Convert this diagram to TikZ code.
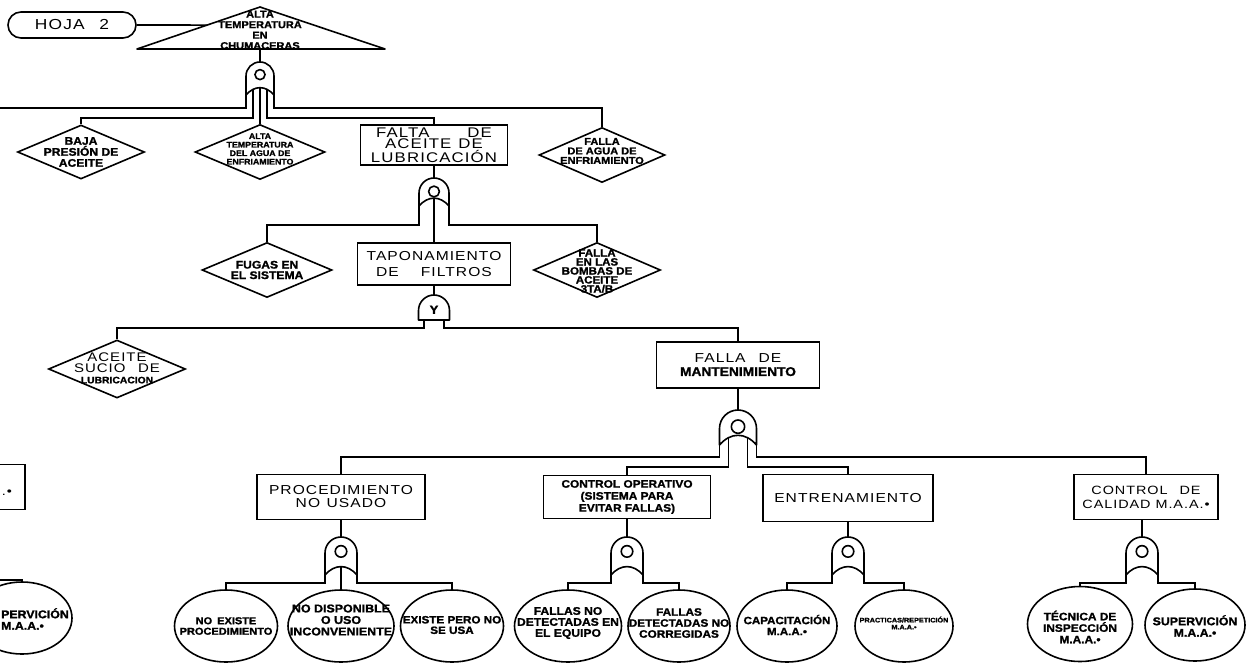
\documentclass[tikz,border=0pt]{standalone}
\usepackage{fontspec}
\setmainfont{Liberation Sans}
\newfontfamily\boxfont[FakeStretch=1.2,LetterSpace=8]{Liberation Sans}
\newfontfamily\tagfont[FakeStretch=1.1,FakeBold=1.5]{Liberation Sans Bold}
\usetikzlibrary{shapes.geometric}

\tikzset{
  link/.style={line width=1.6pt},
  gateline/.style={line width=1.6pt, line join=round},
  fault/.style={draw, rectangle, line width=1.6pt, inner sep=1pt, align=center, font=\boxfont\fontsize{13}{13}\selectfont},
  basic/.style={draw, ellipse, line width=1.6pt, inner sep=0pt},
  cond/.style={draw, diamond, line width=1.6pt, inner sep=0pt},
  tag/.style={align=center, inner sep=0pt, font=\tagfont\fontsize{10.5}{11}\selectfont}
}

\newcommand{\orgate}[5]{%
  \pgfmathsetmacro\gatew{#4/2}
  \pgfmathsetmacro\gatek{0.552*\gatew}
  \begin{scope}[shift={(#2,#3)}]
    \draw[gateline] (-\gatew,#5) -- (-\gatew,\gatew) .. controls (-\gatew,\gatew-\gatek) and (-\gatek,0) .. (0,0)
      .. controls (\gatek,0) and (\gatew,\gatew-\gatek) .. (\gatew,\gatew) -- (\gatew,#5)
      .. controls (0.4*\gatew,#5-0.7*\gatew) and (-0.4*\gatew,#5-0.7*\gatew) .. cycle;
    \draw[gateline] (0,0.9*\gatew) circle (0.36*\gatew);
    \coordinate (#1 top) at (0,0);
    \coordinate (#1 bl) at (-\gatew,#5);
    \coordinate (#1 br) at (\gatew,#5);
    \coordinate (#1 bc) at (0,#5-0.52*\gatew);
    \coordinate (#1 il) at (-0.52*\gatew,#5-0.39*\gatew);
    \coordinate (#1 ir) at (0.52*\gatew,#5-0.39*\gatew);
  \end{scope}
}

\newcommand{\andgate}[5]{%
  \pgfmathsetmacro\gatew{#4/2}
  \pgfmathsetmacro\gatek{0.552*\gatew}
  \begin{scope}[shift={(#2,#3)}]
    \draw[gateline] (-\gatew,#5) -- (-\gatew,\gatew) .. controls (-\gatew,\gatew-\gatek) and (-\gatek,0) .. (0,0)
      .. controls (\gatek,0) and (\gatew,\gatew-\gatek) .. (\gatew,\gatew) -- (\gatew,#5) -- cycle;
    \node[font=\tagfont\fontsize{12}{12}\selectfont, inner sep=0pt] (#1 sym) at (0,0.95*\gatew) {Y};
    \coordinate (#1 top) at (0,0);
    \coordinate (#1 il) at (-0.65*\gatew,#5);
    \coordinate (#1 ir) at (0.65*\gatew,#5);
  \end{scope}
}

\begin{document}
\begin{tikzpicture}[x=1pt,y=-1pt]
    \useasboundingbox (0,0) rectangle (1260,665);
    \clip (0,0) rectangle (1260,665);
    \fill[white] (0,0) rectangle (1260,665);

    \node[fault, font=\boxfont\fontsize{14.5}{14}\selectfont, rounded corners=13pt, minimum width=128, minimum height=26] (hoja) at (72,25) {HOJA\quad 2};
    \coordinate (tapex) at (260,7);
    \coordinate (tleft) at (137,49);
    \coordinate (tright) at (385,49);
    \coordinate (tbase) at (260,49);
    \draw[gateline] (tapex) -- (tright) -- (tleft) -- cycle;
    \path (tapex) -- (tleft) coordinate[pos=0.43] (tside);
    \node[tag, font=\tagfont\fontsize{10}{10.5}\selectfont] (chum) at (260,30) {ALTA\\TEMPERATURA\\EN\\CHUMACERAS};
    \draw[link] (hoja.east) -- (tside);

    \orgate{g1}{260}{62}{28}{33}
    \draw[link] (tbase) -- (g1 top);

    \node[cond, minimum width=127, minimum height=54] (baja) at (81,152) {};
    \node[tag, font=\tagfont\fontsize{11}{11}\selectfont] (baja-t) at (baja) {BAJA\\PRESIÓN DE\\ACEITE};
    \node[cond, minimum width=130, minimum height=55] (aguat) at (260,152) {};
    \node[tag, font=\tagfont\fontsize{8}{8.5}\selectfont] (aguat-t) at (260,149) {ALTA\\TEMPERATURA\\DEL AGUA DE\\ENFRIAMIENTO};
    \node[fault, font=\boxfont\fontsize{14}{11.5}\selectfont, minimum width=147, minimum height=40] (falta) at (434,145) {FALTA\hspace{38pt}DE\\ACEITE\enspace DE\\LUBRICACIÓN};
    \node[cond, minimum width=126, minimum height=55] (agua) at (602,155) {};
    \node[tag, font=\tagfont\fontsize{10}{9.5}\selectfont] (agua-t) at (602,151) {FALLA\\DE AGUA DE\\ENFRIAMIENTO};
    \coordinate (offtop) at (-2,108);

    \draw[link] (g1 bl) |- (offtop);
    \draw[link] (g1 br) -- ++(0,13) -| (agua.north);
    \draw[link] (g1 il) -- ++(0,28.5) -| (baja.north);
    \draw[link] (g1 ir) -- ++(0,28.5) -| (falta.north);
    \draw[link] (g1 bc) -- (aguat.north);

    \orgate{g2}{434}{178}{30}{28}
    \draw[link] (falta.south) -- (g2 top);
    \node[cond, minimum width=130, minimum height=55] (fugas) at (267,270) {};
    \node[tag, font=\tagfont\fontsize{11}{10.5}\selectfont] (fugas-t) at (fugas) {FUGAS EN\\EL SISTEMA};
    \node[fault, minimum width=153, minimum height=42] (tapon) at (434,264) {TAPONAMIENTO\\[3pt]DE\hspace{22pt}FILTROS};
    \node[cond, minimum width=127, minimum height=55] (bombas) at (597,270) {};
    \node[tag, font=\tagfont\fontsize{10.5}{9}\selectfont] (bombas-t) at (597,271) {FALLA\\EN LAS\\BOMBAS DE\\ACEITE\\3TA/B};
    \draw[link] (g2 bl) -- ++(0,19) -| (fugas.north);
    \draw[link] (g2 br) -- ++(0,19) -| (bombas.north);
    \draw[link] (g2 bc) -- (tapon.north);

    \andgate{g3}{434}{295}{31}{25}
    \draw[link] (tapon.south) -- (g3 top);
    \node[cond, minimum width=137, minimum height=58] (sucio) at (117,369) {};
    \node[tag, font=\boxfont\fontsize{12.5}{11}\selectfont] (sucio-t) at (117,368) {ACEITE\\SUCIO\quad DE\\{\tagfont\fontsize{9.4}{9}\selectfont LUBRICACION}};
    \node[fault, minimum width=163, minimum height=46] (mant) at (738,365) {FALLA\quad DE\\{\tagfont\fontsize{12.5}{13}\selectfont MANTENIMIENTO}};
    \draw[link] (g3 il) -- ++(0,8) -| (sucio.north);
    \draw[link] (g3 ir) -- ++(0,8) -| (mant.north);

    \orgate{g4}{738}{410}{37}{35}
    \draw[link] (mant.south) -- (g4 top);
    \node[fault, minimum width=168, minimum height=45] (proc) at (341,497) {PROCEDIMIENTO\\NO\enspace USADO};
    \node[fault, font=\tagfont\fontsize{10.8}{12}\selectfont, minimum width=167, minimum height=43] (operativo) at (627,497) {CONTROL OPERATIVO\\(SISTEMA PARA\\EVITAR FALLAS)};
    \node[fault, minimum width=170, minimum height=47] (entren) at (848,498) {ENTRENAMIENTO};
    \node[fault, font=\boxfont\fontsize{12}{14}\selectfont, minimum width=144, minimum height=45] (calidad) at (1146,497) {CONTROL\quad DE\\CALIDAD M.A.A.•};
    \draw[link] (g4 bl) -- ++(0,12) -| (proc.north);
    \draw[link] (g4 br) -- ++(0,12) -| (calidad.north);
    \draw[link] (g4 il) -- ++(0,29) -| (operativo.north);
    \draw[link] (g4 ir) -- ++(0,29) -| (entren.north);

    \orgate{g5}{341}{537}{32}{38}
    \orgate{g6}{627}{537}{32}{38}
    \orgate{g7}{848}{537}{32}{38}
    \orgate{g8}{1142}{537}{32}{38}
    \draw[link] (proc.south) -- (g5 top);
    \draw[link] (operativo.south) -- (g6 top);
    \draw[link] (entren.south) -- (g7 top);
    \draw[link] (g8 top) -- (g8 top |- calidad.south);

    \node[basic, minimum width=103, minimum height=72] (nopro) at (226,626) {};
    \node[tag, font=\tagfont\fontsize{10}{10.5}\selectfont] (nopro-t) at (nopro) {NO\enspace EXISTE\\PROCEDIMIENTO};
    \node[basic, minimum width=106, minimum height=72] (nodisp) at (341,626) {};
    \node[tag, font=\tagfont\fontsize{11.3}{11.5}\selectfont] (nodisp-t) at (341,620) {NO DISPONIBLE\\O USO\\INCONVENIENTE};
    \node[basic, minimum width=103, minimum height=72] (nouse) at (452,626) {};
    \node[tag, font=\tagfont\fontsize{10.6}{10.5}\selectfont] (nouse-t) at (452,625) {EXISTE PERO NO\\SE USA};
    \draw[link] (g5 bl) -- ++(0,8) -| (nopro.north);
    \draw[link] (g5 br) -- ++(0,8) -| (nouse.north);
    \draw[link] (g5 bc) -- (nodisp.north);

    \node[basic, minimum width=107, minimum height=72] (nodet) at (568,626) {};
    \node[tag, font=\tagfont\fontsize{11}{11}\selectfont] (nodet-t) at (568,623) {FALLAS NO\\DETECTADAS EN\\EL EQUIPO};
    \node[basic, minimum width=102, minimum height=72] (nocorr) at (679,626) {};
    \node[tag, font=\tagfont\fontsize{10.7}{11}\selectfont] (nocorr-t) at (679,623) {FALLAS\\DETECTADAS NO\\CORREGIDAS};
    \draw[link] (g6 bl) -- ++(0,8) -| (nodet.north);
    \draw[link] (g6 br) -- ++(0,8) -| (nocorr.north);

    \node[basic, minimum width=100, minimum height=72] (capac) at (787,626) {};
    \node[tag, font=\tagfont\fontsize{10.5}{11}\selectfont] (capac-t) at (787,625) {CAPACITACIÓN\\M.A.A.•};
    \node[basic, minimum width=98, minimum height=72] (pract) at (904,626) {};
    \node[tag, font=\tagfont\fontsize{6.6}{7}\selectfont] (pract-t) at (904,623) {PRACTICAS/REPETICIÓN\\M.A.A.•};
    \draw[link] (g7 bl) -- ++(0,8) -| (capac.north);
    \draw[link] (g7 br) -- ++(0,8) -| (pract.north);

    \node[basic, minimum width=105, minimum height=75] (tecnica) at (1080,624) {};
    \node[tag, font=\tagfont\fontsize{10.8}{11.5}\selectfont] (tecnica-t) at (1080,627) {TÉCNICA DE\\INSPECCIÓN\\M.A.A.•};
    \node[basic, minimum width=100, minimum height=72] (superv) at (1195,625) {};
    \node[tag, font=\tagfont\fontsize{11.2}{11.5}\selectfont] (superv-t) at (1195,626) {SUPERVICIÓN\\M.A.A.•};
    \draw[link] (g8 bl) -- ++(0,8) -| (tecnica.north);
    \draw[link] (g8 br) -- ++(0,8) -| (superv.north);

    \node[fault, minimum width=144, minimum height=45] (lcal) at (-47,487) {};
    \node[font=\boxfont\fontsize{12}{14}\selectfont, inner sep=0pt] (lcal-t) at (7,493) {.•};
    \node[basic, minimum width=100, minimum height=72] (lsup) at (22,618) {};
    \node[tag, align=left, anchor=west, font=\tagfont\fontsize{11.2}{11.5}\selectfont] (lsup-t) at (1,619) {PERVICIÓN\\M.A.A.•};
    \coordinate (offsup) at (-2,580);
    \draw[link] (offsup) -| (lsup.north);
\end{tikzpicture}
\end{document}
